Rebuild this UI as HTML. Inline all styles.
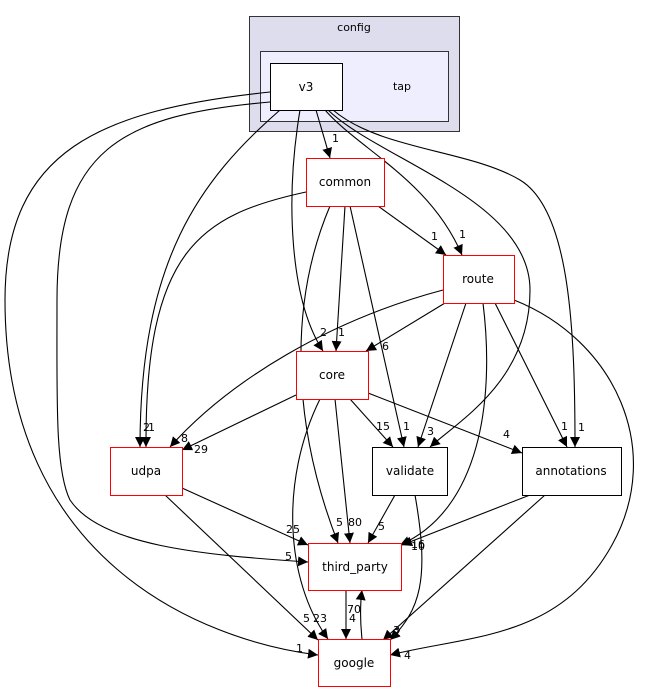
<!DOCTYPE html>
<html><head><meta charset="utf-8"><style>body{margin:0;background:#fff}svg{display:block}text{font-family:"DejaVu Sans","Liberation Sans",sans-serif}</style></head>
<body>
<svg width="649" height="692" viewBox="0 0 649 692" xmlns="http://www.w3.org/2000/svg">
<defs><marker id="a" viewBox="0 0 10 10" refX="10" refY="5" markerWidth="10" markerHeight="10" markerUnits="userSpaceOnUse" orient="auto"><path d="M0,0L10,5L0,10z" fill="#000"/></marker></defs>
<rect x="249.5" y="16.5" width="210" height="115" fill="#ddddee" stroke="#333"/>
<text x="354" y="31" font-size="11" text-anchor="middle">config</text>
<rect x="260.5" y="51.5" width="188" height="70" fill="#eeeeff" stroke="#333"/>
<text x="402" y="90" font-size="11" text-anchor="middle">tap</text>
<g fill="none" stroke="#000" stroke-width="1.1" marker-end="url(#a)">
<path d="M316,110L330,158"/>
<path d="M325,110C360,150 430,180 462,255"/>
<path d="M300,110C285,200 290,300 323,351"/>
<path d="M280,110C200,180 140,260 140,447"/>
<path d="M328,110C380,160 530,200 530,290S460,420 430,447"/>
<path d="M333,110C380,150 470,150 520,180S575,330 575,447"/>
<path d="M270,102C120,115 57,150 57,300C57,400 55,470 70,500C100,545 200,555 308,562"/>
<path d="M270,92C100,110 5,150 5,300C5,560 200,640 318,655"/>
<path d="M378,206L446,255"/>
<path d="M345,206L336,351"/>
<path d="M306,192C200,215 145,250 146,447"/>
<path d="M350,206L404,447"/>
<path d="M330,206C290,300 290,420 338,543"/>
<path d="M445,303L366,351"/>
<path d="M443,290C330,320 230,380 170,447"/>
<path d="M466,303L418,447"/>
<path d="M495,303L567,447"/>
<path d="M483,303C495,400 480,510 400,545"/>
<path d="M514,300C615,340 665,450 612,545S470,635 390,655"/>
<path d="M296,395L182,450"/>
<path d="M350,399L393,447"/>
<path d="M368,393L522,453"/>
<path d="M335,399L350,543"/>
<path d="M320,399C280,480 285,580 328,639"/>
<path d="M182,488L308,545"/>
<path d="M165,495L318,640"/>
<path d="M395,495L368,543"/>
<path d="M415,495C430,580 420,610 390,640"/>
<path d="M530,495L402,545"/>
<path d="M545,495L383,640"/>
<path d="M346,590L346,639"/>
<path d="M362,639C360,620 360,605 362,590"/>
</g>
<g stroke="#000" fill="#fff"><rect x="270.5" y="63.5" width="72" height="47"/></g>
<g stroke="#f00" fill="#fff">
<rect x="306.5" y="158.5" width="78" height="48"/>
<rect x="443.5" y="255.5" width="71" height="48"/>
<rect x="296.5" y="351.5" width="72" height="48"/>
<rect x="110.5" y="447.5" width="72" height="48"/>
<rect x="308.5" y="543.5" width="93" height="47"/>
<rect x="318.5" y="639.5" width="72" height="47"/>
</g>
<g stroke="#000" fill="#fff">
<rect x="372.5" y="447.5" width="75" height="48"/>
<rect x="522.5" y="447.5" width="99" height="48"/>
</g>
<g font-size="12" text-anchor="middle">
<text x="306" y="91">v3</text>
<text x="345" y="186">common</text>
<text x="478" y="283">route</text>
<text x="332" y="379">core</text>
<text x="146" y="475">udpa</text>
<text x="410" y="475">validate</text>
<text x="571" y="475">annotations</text>
<text x="355" y="571">third_party</text>
<text x="354" y="667">google</text>
</g>
<g font-size="11">
<text x="332" y="142">1</text><text x="459" y="238">1</text><text x="320" y="336">2</text><text x="338" y="336">1</text>
<text x="143" y="431">2</text><text x="148" y="431">1</text><text x="427" y="435">3</text><text x="578" y="431">1</text>
<text x="285" y="560">5</text><text x="296" y="652">1</text><text x="431" y="240">1</text><text x="403" y="430">1</text>
<text x="336" y="526">5</text><text x="382" y="350">6</text><text x="181" y="442">8</text><text x="561" y="430">1</text>
<text x="411" y="548">16</text><text x="411" y="550">10</text><text x="404" y="659">4</text><text x="194" y="453">29</text>
<text x="376" y="430">15</text><text x="503" y="438">4</text><text x="348" y="526">80</text><text x="313" y="622">23</text>
<text x="286" y="533">25</text><text x="303" y="622">5</text><text x="378" y="530">5</text><text x="393" y="634">3</text>
<text x="394" y="636">2</text><text x="349" y="622">4</text><text x="347" y="613">70</text>
</g>
</svg>
</body></html>
